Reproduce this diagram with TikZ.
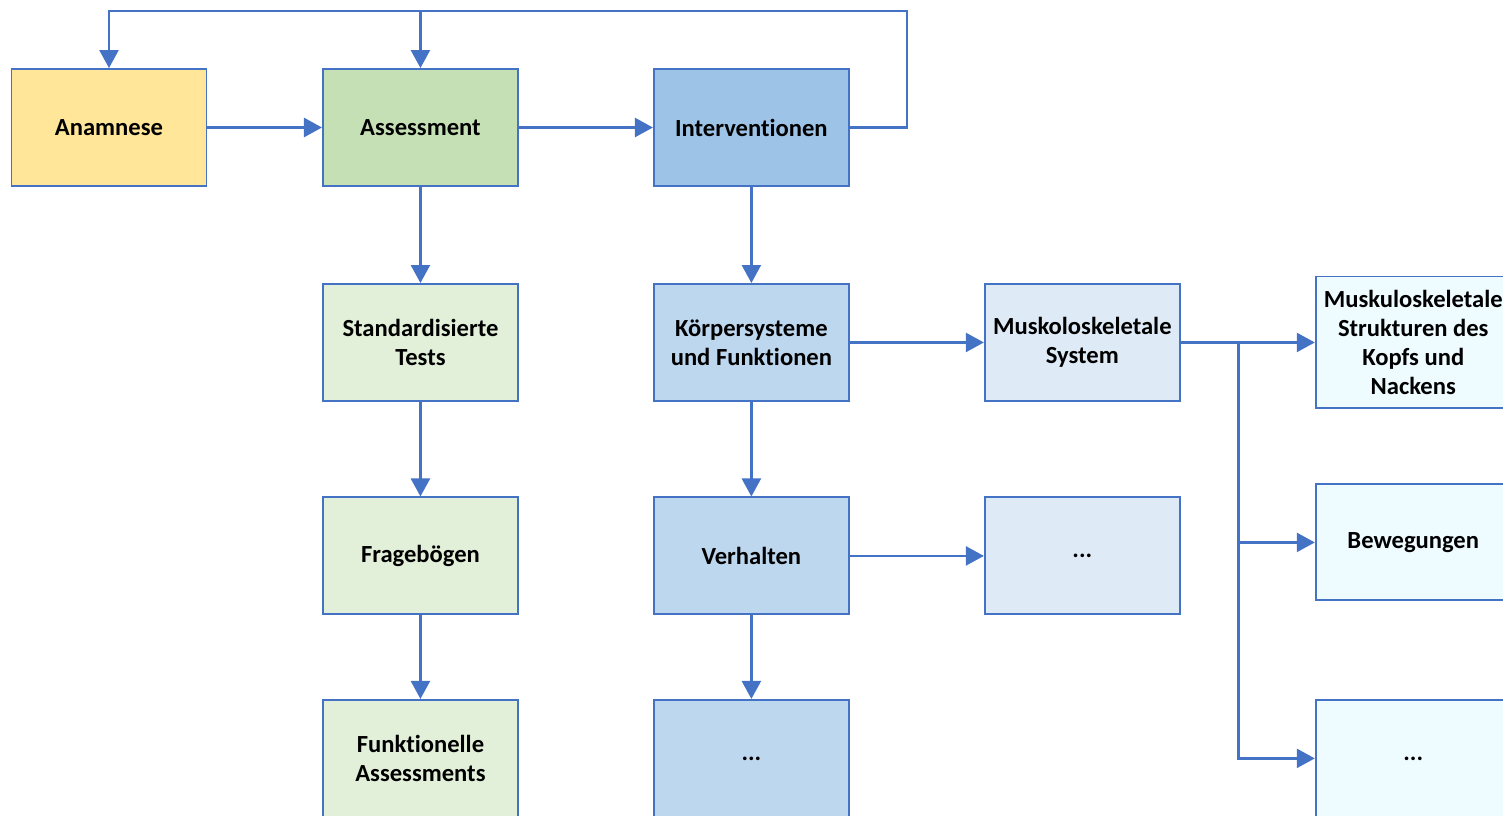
\documentclass[tikz,border=0pt]{standalone}
\usepackage{fontspec}
\setmainfont{Carlito}[Ligatures=NoCommon]
\usetikzlibrary{positioning, arrows.meta}
\definecolor{lineblue}{HTML}{4472C4}
\definecolor{anamfill}{HTML}{FFE699}
\definecolor{assfill}{HTML}{C5E0B4}
\definecolor{intfill}{HTML}{9DC3E6}
\definecolor{testfill}{HTML}{E2F0D9}
\definecolor{bodyfill}{HTML}{BDD7EE}
\definecolor{sysfill}{HTML}{DEEBF7}
\definecolor{partfill}{HTML}{EEFBFF}

\begin{document}
\begin{tikzpicture}[x=0.02cm, y=0.02cm, font=\fontsize{14}{16.5}\selectfont\bfseries,
>={Triangle[length=0.36cm, width=0.38cm]},
block/.style={rectangle, draw=lineblue, line width=1.1pt, minimum width=3.9cm, minimum height=2.34cm, inner sep=2pt, align=center},
flow/.style={lineblue, line width=1.4pt}]
 \useasboundingbox (0,0) rectangle (1503,-815);
 \clip (0,0) rectangle (1503,-815);
 \node[block, fill=anamfill] (anam) at (109,-127.5) {Anamnese};
 \node[block, fill=assfill, right of=anam, node distance=6.23cm] (assess) {Assessment};
 \node[block, fill=intfill, right of=assess, node distance=6.62cm] (interv) {Interventionen};
 \node[block, fill=testfill, below of=assess, node distance=4.3cm] (tests) {Standardisierte\\Tests};
 \node[block, fill=testfill, below of=tests, node distance=4.27cm] (frage) {Fragebögen};
 \node[block, fill=testfill, below of=frage, node distance=4.05cm] (funkt) {Funktionelle\\Assessments};
 \node[block, fill=bodyfill, below of=interv, node distance=4.3cm] (koerper) {Körpersysteme\\und Funktionen};
 \node[block, fill=bodyfill, below of=koerper, node distance=4.27cm] (verh) {Verhalten};
 \node[block, fill=bodyfill, below of=verh, node distance=4.05cm] (idots) {...};
 \node[block, fill=sysfill, right of=koerper, node distance=6.62cm] (muskel) {Muskoloskeletale\\System};
 \node[block, fill=sysfill, right of=verh, node distance=6.62cm] (vdots) {...};
 \node[block, fill=partfill, right of=muskel, node distance=6.62cm, minimum height=2.64cm] (struct) {Muskuloskeletale\\Strukturen des\\Kopfs und\\Nackens};
 \node[block, fill=partfill, below of=struct, node distance=4cm, minimum height=2.32cm] (beweg) {Bewegungen};
 \node[block, fill=partfill, below of=beweg, node distance=4.32cm] (rdots) {...};

 \draw[flow, ->] (anam) -- (assess);
 \draw[flow, ->] (assess) -- (interv);
 \draw[flow, ->] (assess) -- (tests);
 \draw[flow, ->] (tests) -- (frage);
 \draw[flow, ->] (frage) -- (funkt);
 \draw[flow, ->] (interv) -- (koerper);
 \draw[flow, ->] (koerper) -- (verh);
 \draw[flow, ->] (verh) -- (idots);
 \draw[flow, ->] (koerper) -- (muskel);
 \draw[flow, ->] (verh) -- (vdots);
 \draw[flow, ->] (muskel) -- node[pos=0.43, coordinate] (branch) {} (struct);
 \draw[flow, ->] (branch) |- (beweg);
 \draw[flow, ->] (branch) |- (rdots);
 \draw[flow, ->] (interv) -- ++(3.11cm,0) -- ++(0,2.33cm) coordinate (top) -| (anam);
 \draw[flow, ->] (assess |- top) -- (assess);
\end{tikzpicture}
\end{document}
